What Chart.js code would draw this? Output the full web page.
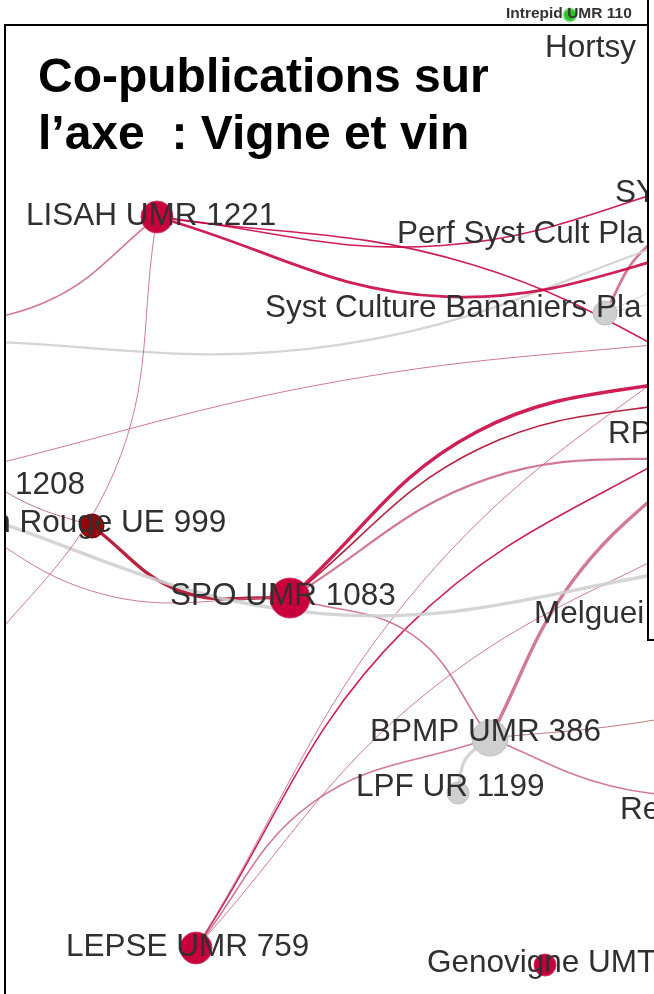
<!DOCTYPE html>
<html lang="fr">
<head>
<meta charset="utf-8">
<title>Co-publications sur l’axe : Vigne et vin</title>
<script src="https://cdn.jsdelivr.net/npm/chart.js@4.4.1/dist/chart.umd.min.js"></script>
<style>
  html, body { margin: 0; padding: 0; background: #fff; }
  #wrap { position: relative; width: 654px; height: 994px; overflow: hidden; }
  #graphe { position: absolute; left: 0; top: 0; }
  .titre { position: absolute; left: 38px; top: 47px; font: bold 48px/57px "Liberation Sans", Arial, sans-serif; color: #000; white-space: pre; }
  .entete { position: absolute; left: 506px; top: 5px; font: bold 15.5px/15px "Liberation Sans", Arial, sans-serif; color: #333; white-space: pre; }
  .point-vert { position: absolute; left: 562px; top: 7px; width: 16px; height: 16px; border-radius: 50%;
    background: radial-gradient(circle, #2bc42b 0, #2bc42b 45%, rgba(43,196,43,0) 72%); }
</style>
</head>
<body>
<div id="wrap">
  <canvas id="graphe" width="654" height="994"></canvas>
  <div class="point-vert"></div>
  <div class="entete">Intrepid UMR 110</div>
  <div class="titre">Co-publications sur
l’axe  : Vigne et vin</div>
</div>
<script>
// Noeuds (coordonnées du graphe, origine au centre de la vue, y vers le haut)
const nodeNames = [
    'LISAH UMR 1221', 'Pech Rouge UE 999', 'SPO UMR 1083', 'BPMP UMR 386', 'LPF UR 1199',
    'LEPSE UMR 759', 'Genovigne UMT', 'Syst Culture Bananiers', 'SY', '1208',
    'hors A', 'hors B', 'hors C', 'hors D', 'hors G1', 'hors G2', 'hors E', 'hors G3', 'hors G4',
    'hors H', 'hors I', 'hors J', 'hors K', 'hors L', 'hors M', 'hors N', 'hors O', 'hors P',
    'hors Q', 'hors R1', 'hors R2'
];
const nodeX = [-170, -235, -37, 163, 131, -131, 218, 278, 393, -356,
    -407, -367, 433, 413, -387, 393, 393, -392, 393,
    393, 393, 393, 433, 403, 403, 373, 433, 413, 373, 393, 393];
const nodeY = [280, -29, -101, -241, -296, -451, -468, 184, 322, 27,
    167, -183, 97, 257, 157, 272, 159, -5, -68,
    125, 102, 42, 197, 77, -23, 42, -203, -303, 282, 227, 197];
const nodeWeight = [16, 12, 20, 18, 11, 16, 11, 12, 10, 10,
    10, 10, 10, 10, 10, 10, 10, 10, 10, 10, 10, 10, 10, 10, 10, 10, 10, 10, 10, 10, 10];
const nodeGroup = ['vigne', 'rouge', 'vigne', 'autre', 'autre', 'vigne', 'vigne', 'autre', 'vigne', 'autre',
    'autre', 'autre', 'vigne', 'vigne', 'autre', 'autre', 'vigne', 'autre', 'autre',
    'vigne', 'rouge', 'autre', 'autre', 'vigne', 'autre', 'vigne', 'rouge', 'vigne', 'vigne', 'autre', 'autre'];

// Liens : source, cible, nombre de co-publications, courbure
const edgeFrom = ['LISAH UMR 1221', 'LISAH UMR 1221', 'LISAH UMR 1221', 'LISAH UMR 1221', 'LISAH UMR 1221',
    'hors G1', '1208', 'hors G3', 'hors G3', 'Pech Rouge UE 999', '1208',
    'SPO UMR 1083', 'SPO UMR 1083', 'SPO UMR 1083', 'SPO UMR 1083',
    'LEPSE UMR 759', 'LEPSE UMR 759', 'LEPSE UMR 759', 'LEPSE UMR 759',
    'BPMP UMR 386', 'BPMP UMR 386', 'BPMP UMR 386', 'LPF UR 1199',
    'Syst Culture Bananiers', 'Syst Culture Bananiers', 'Syst Culture Bananiers'];
const edgeTo = ['hors A', 'hors B', 'hors C', 'SY', 'hors D',
    'hors G2', 'hors E', 'hors G4', 'SPO UMR 1083', 'SPO UMR 1083', 'Pech Rouge UE 999',
    'hors H', 'hors I', 'hors J', 'BPMP UMR 386',
    'hors K', 'hors L', 'hors M', 'BPMP UMR 386',
    'hors N', 'hors O', 'hors P', 'BPMP UMR 386',
    'hors Q', 'hors R1', 'hors R2'];
const edgeWeight = [2, 1, 2, 2, 4, 3, 1, 5, 1, 5, 1, 5, 2, 3, 2, 1, 2, 1, 2, 5, 1, 2, 5, 4, 1, 1];
const edgeBend = [0.11, 0.12, 0.073, -0.088, -0.117, -0.08, 0.031, -0.102, -0.123, -0.147, -0.05,
    0.124, 0.114, 0.112, 0.164, 0.081, 0.106, 0.08, 0.14, 0.077, -0.02, -0.068, 0.165, 0.12, 0.03, 0.03];

// Etiquettes visibles dans le cadre (début du texte, ligne de base)
const labelText = ['Hortsy', 'LISAH UMR 1221', 'SY', 'Perf Syst Cult Pla', 'Syst Culture Bananiers Pla',
    'RP', '1208', 'Pech Rouge UE 999', 'SPO UMR 1083', 'Melguei', 'BPMP UMR 386', 'LPF UR 1199',
    'Re', 'LEPSE UMR 759', 'Genovigne UMT'];
const labelX = [218, -301, 288, 70, -62, 281, -312, -388, -157, 207, 43, 29, 293, -261, 100];
const labelY = [440, 272, 295, 254, 180, 54, 3, -35, -108, -126, -244, -299, -322, -459, -475];

const groupColor = { vigne: [200, 0, 60], rouge: [150, 5, 10], autre: [207, 207, 207] };

function rgb(c, a) {
    return `rgba(${c[0]}, ${c[1]}, ${c[2]}, ${a})`;
}

function mix(a, b) {
    return [0, 1, 2].map(i => Math.round((a[i] + b[i]) / 2));
}

const idx = {};
nodeNames.forEach((n, i) => { idx[n] = i; });

const edgeDatasets = edgeFrom.map((from, k) => {
    const s = idx[from];
    const t = idx[edgeTo[k]];
    const dx = nodeX[t] - nodeX[s];
    const dy = nodeY[t] - nodeY[s];
    const b = edgeBend[k];
    const mid = {
        x: (nodeX[s] + nodeX[t]) / 2 - b * dy,
        y: (nodeY[s] + nodeY[t]) / 2 + b * dx
    };
    const col = mix(groupColor[nodeGroup[s]], groupColor[nodeGroup[t]]);
    return {
        type: 'line',
        data: [{ x: nodeX[s], y: nodeY[s] }, mid, { x: nodeX[t], y: nodeY[t] }],
        borderColor: rgb(col, 0.88),
        borderWidth: 0.4 + 0.6 * edgeWeight[k],
        tension: 0.4,
        pointRadius: 0,
        fill: false,
        order: 1
    };
});

const nodeDataset = {
    type: 'bubble',
    data: nodeNames.map((n, i) => ({ x: nodeX[i], y: nodeY[i], r: nodeWeight[i] })),
    backgroundColor: nodeGroup.map(g => rgb(groupColor[g], 1)),
    borderColor: nodeGroup.map(g => g === 'autre' ? '#bdbdbd' : (g === 'rouge' ? '#7a0508' : '#d2335f')),
    borderWidth: 1,
    order: 0
};

function clipFrame(ctx) {
    ctx.beginPath();
    ctx.moveTo(6, 26);
    ctx.lineTo(647, 26);
    ctx.lineTo(647, 641);
    ctx.lineTo(654, 641);
    ctx.lineTo(654, 994);
    ctx.lineTo(6, 994);
    ctx.closePath();
    ctx.clip();
}

const cadrePlugin = {
    id: 'cadre',
    beforeDatasetsDraw(chart) {
        chart.ctx.save();
        clipFrame(chart.ctx);
    },
    afterDatasetsDraw(chart) {
        const ctx = chart.ctx;
        const sx = chart.scales.x;
        const sy = chart.scales.y;
        ctx.font = '31.5px "Liberation Sans", Arial, sans-serif';
        ctx.fillStyle = '#303030';
        ctx.textAlign = 'left';
        ctx.textBaseline = 'alphabetic';
        labelText.forEach((txt, i) => {
            ctx.fillText(txt, sx.getPixelForValue(labelX[i]), sy.getPixelForValue(labelY[i]));
        });
        ctx.restore();
    },
    afterDraw(chart) {
        const ctx = chart.ctx;
        ctx.save();
        ctx.fillStyle = '#000';
        ctx.fillRect(4, 24, 645, 2);
        ctx.fillRect(4, 24, 2, 970);
        ctx.fillRect(647, 0, 2, 641);
        ctx.fillRect(647, 639, 7, 2);
        ctx.restore();
    }
};

new Chart(document.getElementById('graphe'), {
    type: 'scatter',
    data: { datasets: [nodeDataset, ...edgeDatasets] },
    options: {
        responsive: false,
        animation: false,
        events: [],
        devicePixelRatio: 1,
        layout: { autoPadding: false, padding: { left: 6, top: 26, right: 0, bottom: 0 } },
        elements: { line: { capBezierPoints: false } },
        plugins: { legend: { display: false }, tooltip: { enabled: false } },
        scales: {
            x: {
                type: 'linear', display: false, bounds: 'data',
                afterDataLimits: (s) => { s.min = -321; s.max = 327; }
            },
            y: {
                type: 'linear', display: false, bounds: 'data',
                afterDataLimits: (s) => { s.min = -497; s.max = 471; }
            }
        }
    },
    plugins: [cadrePlugin]
});
</script>
</body>
</html>
